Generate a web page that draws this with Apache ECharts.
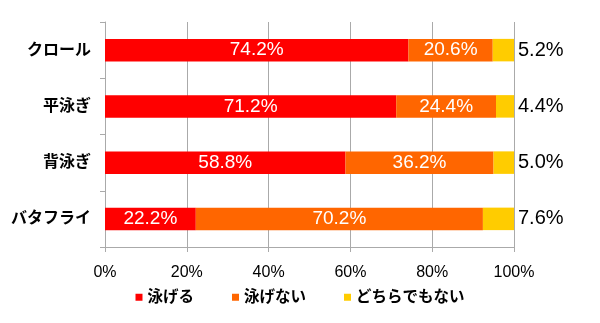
<!DOCTYPE html>
<html><head><meta charset="utf-8">
<script src="https://cdn.jsdelivr.net/npm/echarts@6/dist/echarts.min.js"></script>
<style>html,body{margin:0;padding:0;background:#fff}#c{width:600px;height:323px}</style>
</head><body><div id="c"></div>
<script>
const categories = ['クロール', '平泳ぎ', '背泳ぎ', 'バタフライ'];
const seriesNames = ['泳げる', '泳げない', 'どちらでもない'];
const canSwim = [74.2, 71.2, 58.8, 22.2];
const cannotSwim = [20.6, 24.4, 36.2, 70.2];
const neither = [5.2, 4.4, 5.0, 7.6];
const xTicks = [0, 20, 40, 60, 80, 100];
const colors = ['#ff0000', '#ff6600', '#ffcc00'];

const FONT = "'Liberation Sans', Arial, 'Noto Sans CJK JP', sans-serif";
const chart = echarts.init(document.getElementById('c'));
function mk(name, data, color, inside) {
  return {
    name, type: 'bar', stack: 'total', data, barWidth: '40%',
    itemStyle: { color },
    label: inside ? {
      show: true, position: 'inside', color: '#fff', fontSize: 19, fontFamily: FONT,
      formatter: p => p.value.toFixed(1) + '%'
    } : {
      show: true, position: 'right', distance: 4, color: '#000', fontSize: 20, fontFamily: FONT,
      formatter: p => p.value.toFixed(1) + '%'
    }
  };
}
chart.setOption({
  animation: false,
  textStyle: { fontFamily: FONT },
  grid: { left: 105, right: 86, top: 22, bottom: 76 },
  legend: {
    bottom: 13, left: 'center', itemWidth: 7, itemHeight: 7, itemGap: 38,
    icon: 'rect',
    textStyle: { fontSize: 15.5, fontWeight: 'bold', color: '#000', fontFamily: FONT },
    data: seriesNames
  },
  xAxis: {
    type: 'value', min: xTicks[0], max: xTicks[xTicks.length - 1], interval: 20,
    axisLine: { show: true, lineStyle: { color: '#aaa' } },
    axisTick: { show: true, length: 5, lineStyle: { color: '#aaa' } },
    splitLine: { show: true, lineStyle: { color: '#aaa' } },
    axisLabel: { margin: 18, fontSize: 16, color: '#000', fontFamily: FONT, formatter: v => v + '%' }
  },
  yAxis: {
    type: 'category', inverse: true, data: categories,
    axisLine: { show: true, lineStyle: { color: '#aaa' } },
    axisTick: { show: true, length: 5, lineStyle: { color: '#aaa' } },
    axisLabel: { margin: 14, fontSize: 16, fontWeight: 'bold', color: '#000', fontFamily: FONT }
  },
  series: [
    mk(seriesNames[0], canSwim, colors[0], true),
    mk(seriesNames[1], cannotSwim, colors[1], true),
    mk(seriesNames[2], neither, colors[2], false)
  ]
});
</script></body></html>
